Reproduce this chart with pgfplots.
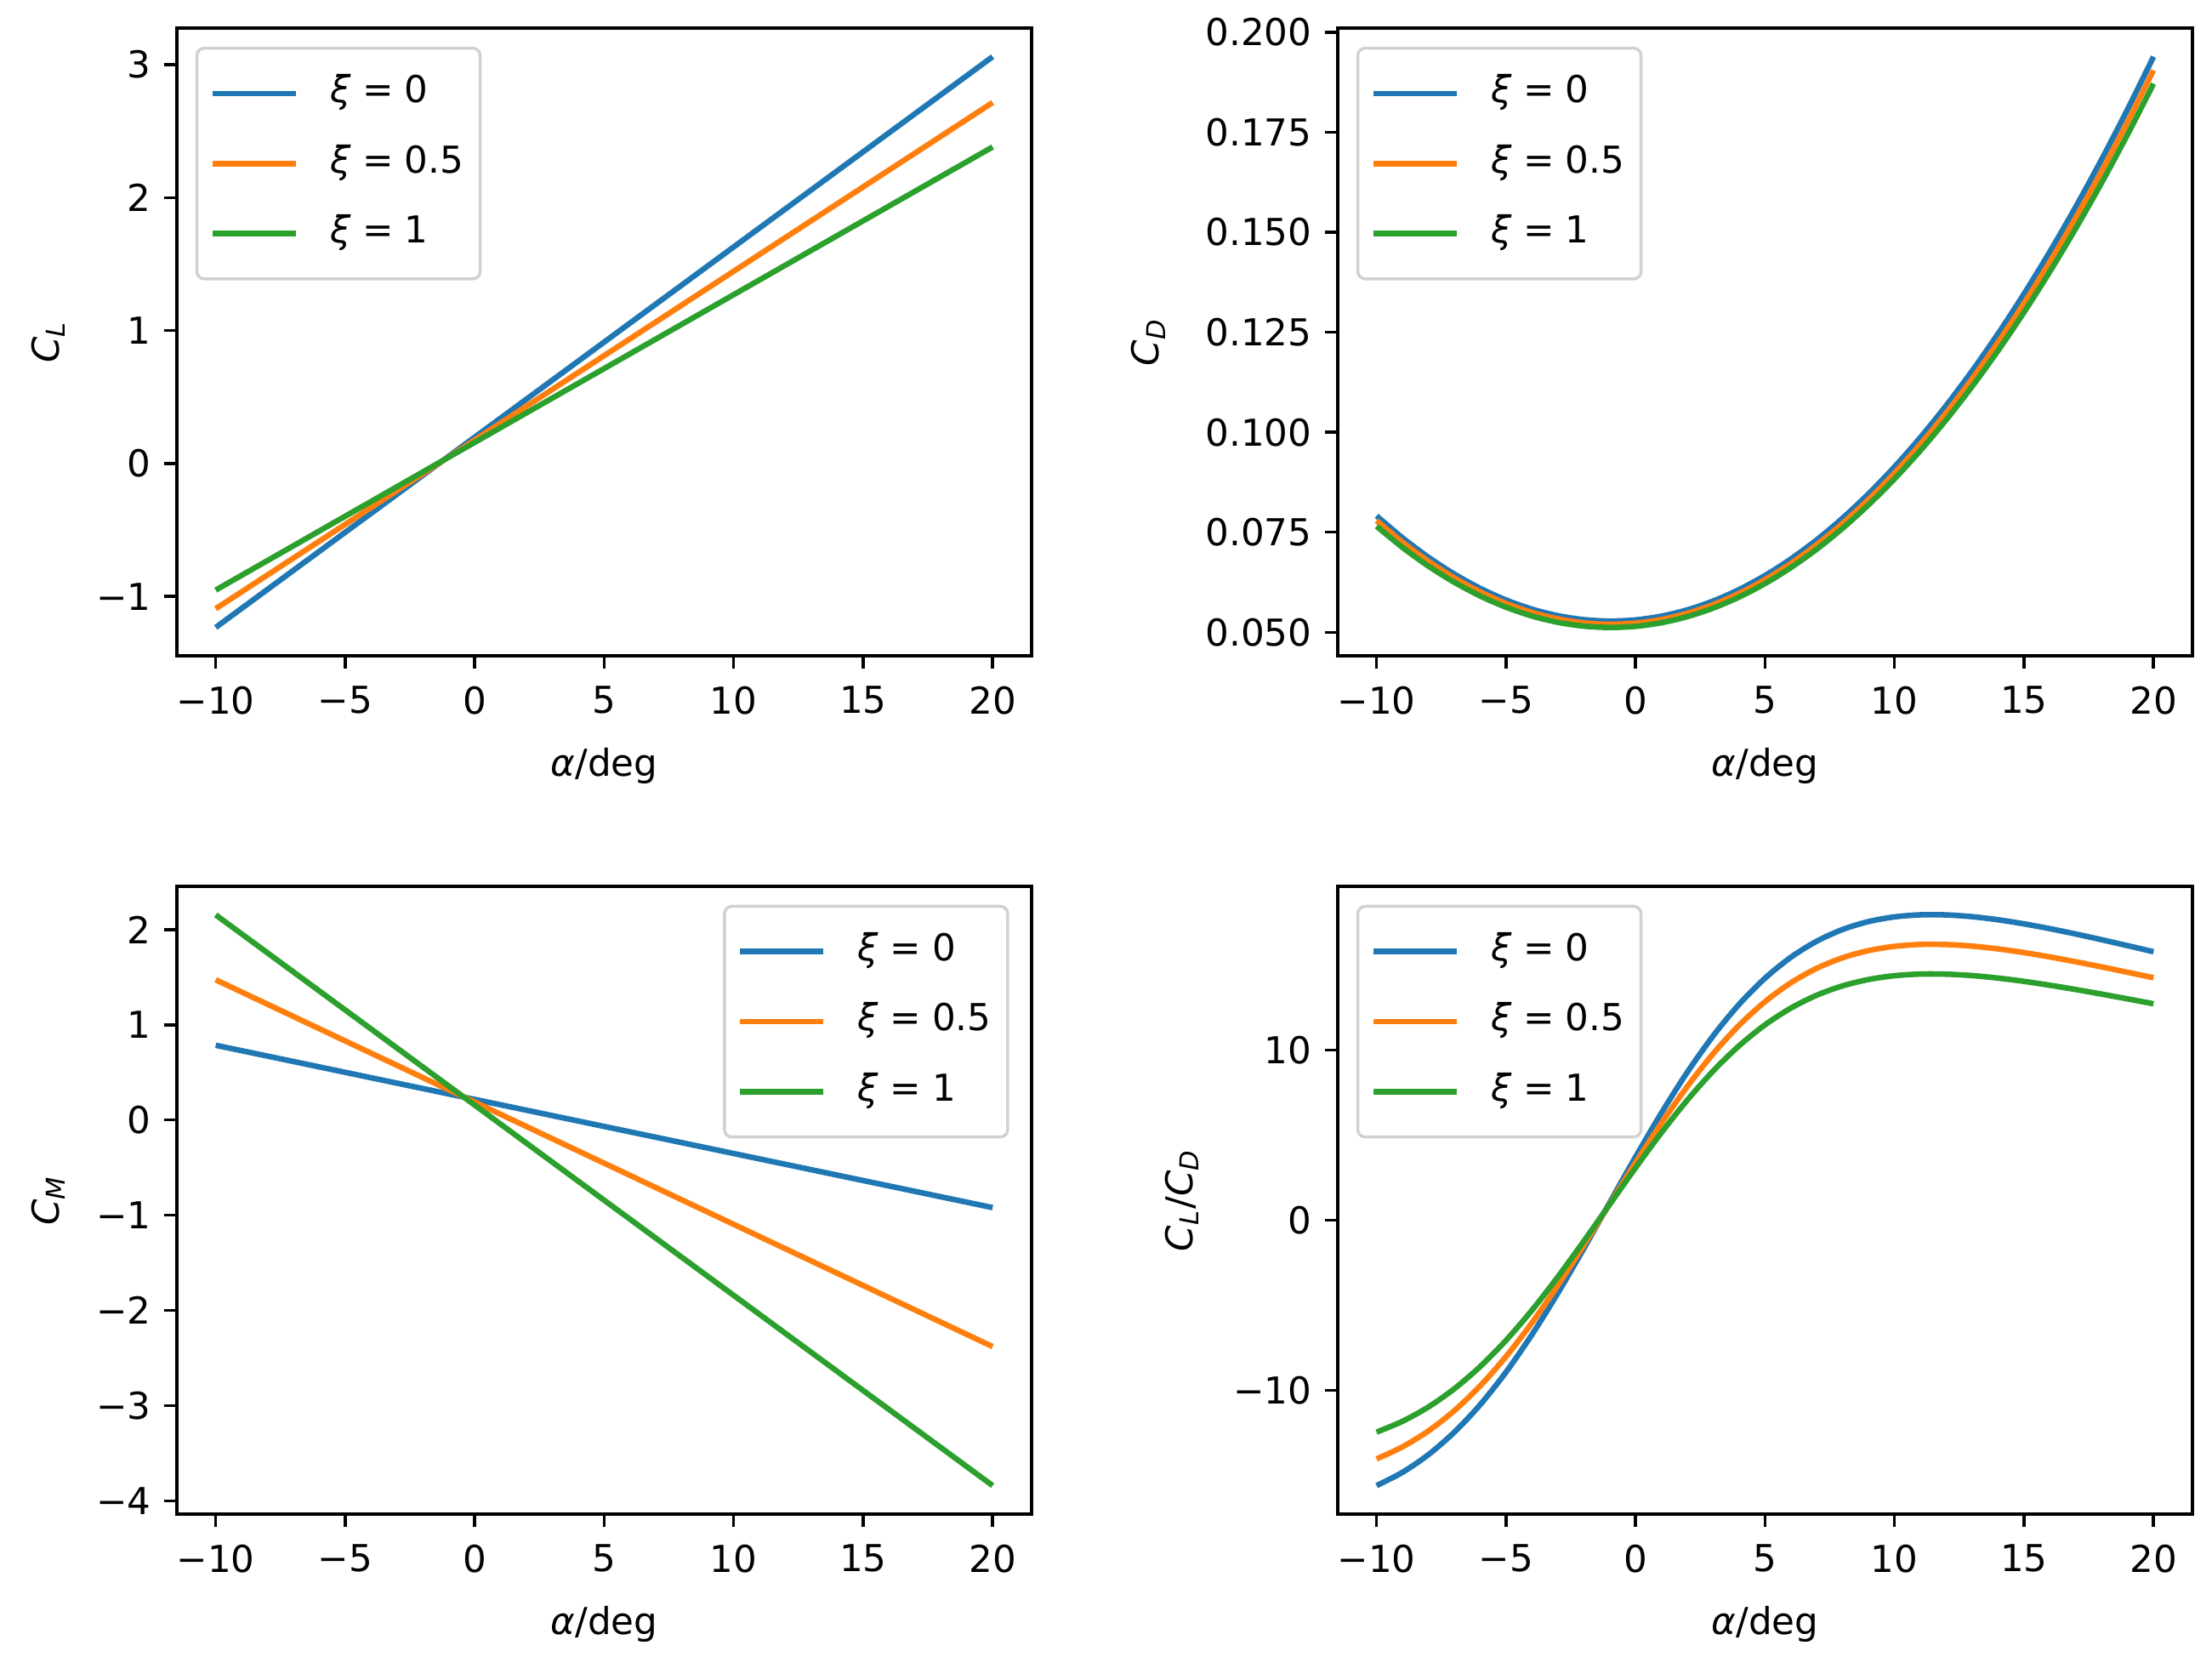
\documentclass[border=0pt]{standalone}
\usepackage{fontspec}
\setmainfont{DejaVu Sans}
\usepackage{pgfplots}
\usepackage{pgfplotstable}
\pgfplotsset{compat=1.18}
\definecolor{tabblue}{HTML}{1F77B4}
\definecolor{taborange}{HTML}{FF7F0E}
\definecolor{tabgreen}{HTML}{2CA02C}

% alpha, xi=0 (b), xi=0.5 (o), xi=1 (g)
\pgfplotstableread{
a b o g
-10 -1.233 -1.092 -0.952
20 3.060 2.715 2.381
}\tabCL
\pgfplotstableread{
a b o g
-10 0.785 1.473 2.155
20 -0.920 -2.380 -3.840
}\tabCM
\pgfplotstableread{
a b o g
-10 0.07910 0.07790 0.07650
-9 0.07361 0.07250 0.07121
-8 0.06876 0.06773 0.06654
-7 0.06455 0.06359 0.06250
-6 0.06098 0.06008 0.05907
-5 0.05806 0.05720 0.05626
-4 0.05578 0.05495 0.05406
-3 0.05415 0.05334 0.05249
-2 0.05315 0.05235 0.05154
-1 0.05280 0.05200 0.05120
0 0.05309 0.05228 0.05148
1 0.05403 0.05319 0.05239
2 0.05560 0.05473 0.05391
3 0.05782 0.05691 0.05605
4 0.06068 0.05971 0.05881
5 0.06419 0.06315 0.06218
6 0.06833 0.06721 0.06618
7 0.07312 0.07191 0.07079
8 0.07855 0.07724 0.07603
9 0.08463 0.08321 0.08188
10 0.09135 0.08980 0.08835
11 0.09871 0.09702 0.09544
12 0.10671 0.10488 0.10315
13 0.11535 0.11337 0.11148
14 0.12464 0.12248 0.12043
15 0.13457 0.13223 0.12999
16 0.14514 0.14262 0.14018
17 0.15636 0.15363 0.15098
18 0.16822 0.16527 0.16240
19 0.18072 0.17755 0.17444
20 0.19386 0.19046 0.18710
}\tabCD
\pgfplotstableread{
a b o g
-10 -15.588 -14.018 -12.444
-9 -14.807 -13.312 -11.809
-8 -13.770 -12.376 -10.968
-7 -12.451 -11.186 -9.899
-6 -10.833 -9.727 -8.593
-5 -8.913 -7.998 -7.048
-4 -6.712 -6.016 -5.279
-3 -4.272 -3.819 -3.321
-2 -1.659 -1.467 -1.226
-1 1.040 0.963 0.936
0 3.729 3.386 3.089
1 6.313 5.713 5.156
2 8.709 7.871 7.071
3 10.849 9.800 8.783
4 12.696 11.465 10.260
5 14.231 12.850 11.491
6 15.463 13.962 12.475
7 16.407 14.814 13.232
8 17.095 15.435 13.782
9 17.558 15.853 14.154
10 17.833 16.102 14.375
11 17.953 16.212 14.471
12 17.948 16.207 14.466
13 17.844 16.113 14.382
14 17.662 15.950 14.236
15 17.422 15.734 14.043
16 17.139 15.478 13.815
17 16.825 15.194 13.563
18 16.489 14.892 13.293
19 16.141 14.577 13.013
20 15.785 14.255 12.726
}\tabLD

\newcommand{\xieq}[1]{\textit{ξ}\hspace{0.3em}=\hspace{0.3em}#1}

\pgfplotsset{
  mpl/.style={
    scale only axis, width=230.5pt, height=169.3pt,
    xmin=-11.5, xmax=21.5,
    axis line style={line width=0.8pt},
    tick align=outside, tick pos=left,
    major tick length=3.5pt,
    every tick/.style={black, line width=0.8pt},
    xtick={-10,-5,0,5,10,15,20},
    xticklabels={−10,−5,0,5,10,15,20},
    xticklabel style={yshift=-1.2pt},
    xlabel={\textit{α}/deg},
    xlabel shift=2.2pt,
    every axis plot/.append style={line width=1.5pt, line join=round},
    legend cell align=left,
    legend image code/.code={\draw[##1] (0pt,0pt) -- (22.5pt,0pt);},
    legend style={draw=black!18, line width=0.8pt, rounded corners=2pt,
      fill=white, fill opacity=0.8, text opacity=1,
      inner xsep=3.5pt, inner ysep=6.2pt, row sep=6.9pt, column sep=7.5pt,
      nodes={inner sep=1pt, text height=7.5pt, text depth=2.5pt}},
  },
  ul/.style={legend style={at={(0,1)}, anchor=north west, xshift=5pt, yshift=-5pt}},
  ur/.style={legend style={at={(1,1)}, anchor=north east, xshift=-6pt, yshift=-5pt}},
}

\begin{document}
\begin{tikzpicture}
\useasboundingbox (0,0) rectangle (596.6pt,446.6pt);

\begin{axis}[mpl, ul, at={(47.7pt,269.7pt)}, anchor=south west,
  ymin=-1.4477, ymax=3.2747,
  ytick={-1,0,1,2,3}, yticklabels={−1,0,1,2,3},
  ylabel={\textit{C}\textsubscript{\textit{L}}}, ylabel shift=1.5pt]
\addplot[tabblue] table[x=a, y=b] {\tabCL};
\addplot[taborange] table[x=a, y=o] {\tabCL};
\addplot[tabgreen] table[x=a, y=g] {\tabCL};
\legend{\xieq{0},\xieq{0.5},\xieq{1}}
\end{axis}

\begin{axis}[mpl, ul, at={(360.8pt,269.7pt)}, anchor=south west,
  ymin=0.04407, ymax=0.20099,
  ytick={0.05,0.075,0.1,0.125,0.15,0.175,0.2},
  yticklabels={0.050,0.075,0.100,0.125,0.150,0.175,0.200},
  ylabel={\textit{C}\textsubscript{\textit{D}}}, ylabel shift=4pt]
\addplot[tabblue, smooth] table[x=a, y=b] {\tabCD};
\addplot[taborange, smooth] table[x=a, y=o] {\tabCD};
\addplot[tabgreen, smooth] table[x=a, y=g] {\tabCD};
\legend{\xieq{0},\xieq{0.5},\xieq{1}}
\end{axis}

\begin{axis}[mpl, ur, at={(47.7pt,38.3pt)}, anchor=south west,
  ymin=-4.140, ymax=2.455,
  ytick={-4,-3,-2,-1,0,1,2}, yticklabels={−4,−3,−2,−1,0,1,2},
  ylabel={\textit{C}\textsubscript{\textit{M}}}, ylabel shift=1.5pt]
\addplot[tabblue] table[x=a, y=b] {\tabCM};
\addplot[taborange] table[x=a, y=o] {\tabCM};
\addplot[tabgreen] table[x=a, y=g] {\tabCM};
\legend{\xieq{0},\xieq{0.5},\xieq{1}}
\end{axis}

\begin{axis}[mpl, ul, at={(360.8pt,38.3pt)}, anchor=south west,
  ymin=-17.265, ymax=19.630,
  ytick={-10,0,10}, yticklabels={−10,0,10},
  ylabel={\textit{C}\textsubscript{\textit{L}}/\textit{C}\textsubscript{\textit{D}}}, ylabel shift=2.5pt]
\addplot[tabblue, smooth] table[x=a, y=b] {\tabLD};
\addplot[taborange, smooth] table[x=a, y=o] {\tabLD};
\addplot[tabgreen, smooth] table[x=a, y=g] {\tabLD};
\legend{\xieq{0},\xieq{0.5},\xieq{1}}
\end{axis}
\end{tikzpicture}
\end{document}
